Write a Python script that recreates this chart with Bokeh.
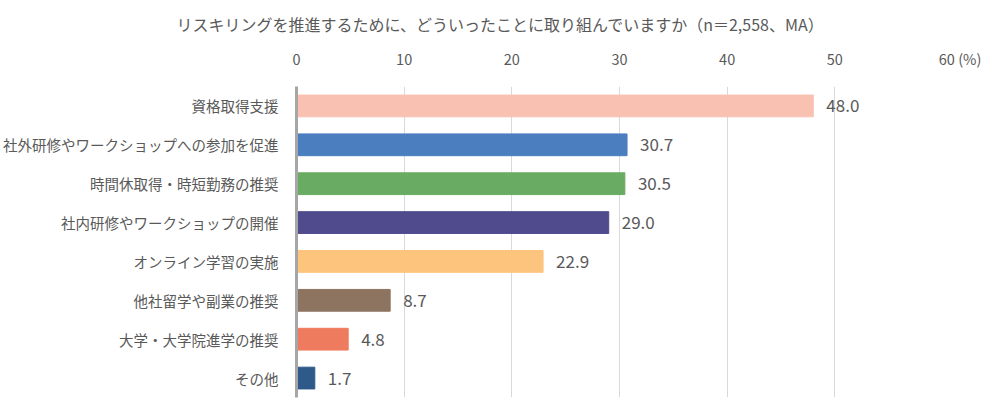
from bokeh.plotting import figure
from bokeh.models import ColumnDataSource, FactorRange, Range1d, FixedTicker, Title
from bokeh.core.properties import value
from bokeh.embed import file_html
from bokeh.resources import INLINE

categories = ["資格取得支援", "社外研修やワークショップへの参加を促進", "時間休取得・時短勤務の推奨",
              "社内研修やワークショップの開催", "オンライン学習の実施", "他社留学や副業の推奨",
              "大学・大学院進学の推奨", "その他"]
values = [48.0, 30.7, 30.5, 29.0, 22.9, 8.7, 4.8, 1.7]
colors = ["#F8C1B2", "#4A7EBF", "#6AAB63", "#4F4B8C", "#FDC47D", "#8D7461", "#EF7B5F", "#2E5A89"]
ticks = [0, 10, 20, 30, 40, 50, 60]
unit_label = "(%)"
title_text = "リスキリングを推進するために、どういったことに取り組んでいますか（n＝2,558、MA）"

FONT = "Noto Sans CJK JP"
GRAY = "#595959"

src = ColumnDataSource(dict(cat=categories, val=values, color=colors,
                            lab=[f"{v:.1f}" for v in values]))

p = figure(width=984, height=404, output_backend="svg", toolbar_location=None,
           y_range=FactorRange(*categories[::-1], range_padding=0),
           x_range=Range1d(0, 60), x_axis_location="above",
           min_border_left=290, min_border_right=42, min_border_top=83, min_border_bottom=7)
p.hbar(y="cat", right="val", left=0, height=0.56, color="color", source=src)
p.text(x="val", y="cat", text="lab", source=src, x_offset=13, text_align="left",
       text_baseline="middle", text_color=GRAY, text_font_size="17px", text_font=value(FONT))

p.outline_line_color = None
p.ygrid.grid_line_color = None
p.xgrid.grid_line_color = "#D9D9D9"
p.xgrid.ticker = FixedTicker(ticks=ticks)

xa = p.xaxis[0]
xa.ticker = FixedTicker(ticks=ticks)
xa.axis_line_color = None
xa.major_tick_line_color = None
xa.minor_tick_line_color = None
xa.major_label_text_font = FONT
xa.major_label_text_font_size = "14.5px"
xa.major_label_text_color = GRAY
xa.major_label_standoff = 12
pad = "\u2007\u2007\u2007\u2007\u2009"
xa.major_label_overrides = {ticks[-1]: f"{pad}{ticks[-1]} {unit_label}"}

ya = p.yaxis[0]
ya.axis_line_color = "#A6A6A6"
ya.axis_line_width = 3
ya.major_tick_line_color = None
ya.minor_tick_line_color = None
ya.major_label_text_font = FONT
ya.major_label_text_font_size = "14.5px"
ya.major_label_text_color = GRAY
ya.major_label_standoff = 12

t = Title(text=title_text, align="left", offset=-120, text_font=FONT,
          text_font_size="16px", text_color=GRAY, text_font_style="normal", standoff=18)
p.add_layout(t, "above")

open("out.html", "w").write(file_html(p, INLINE))
